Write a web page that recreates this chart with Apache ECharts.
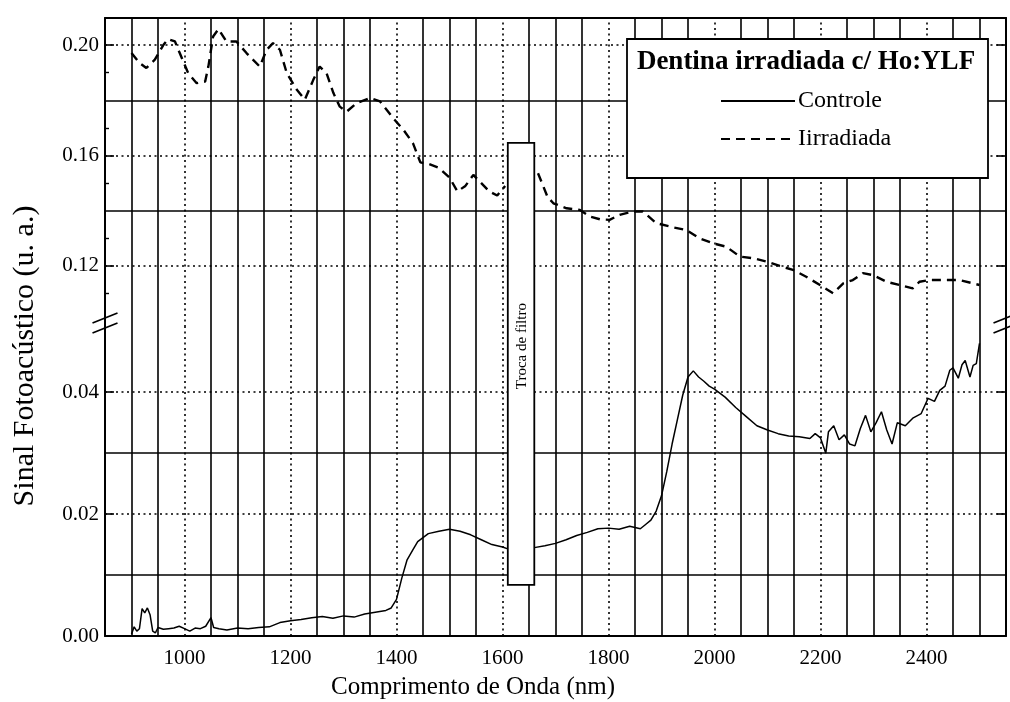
<!DOCTYPE html>
<html>
<head>
<meta charset="utf-8">
<title>Dentina irradiada c/ Ho:YLF</title>
<script src="https://cdn.jsdelivr.net/npm/echarts@6.0.0/dist/echarts.min.js"></script>
<style>
  html, body { margin: 0; padding: 0; background: #fff; }
  #chart { width: 1010px; height: 702px; }
</style>
</head>
<body>
<div id="chart"></div>
<script>
// Photoacoustic spectra of dentin: control vs. Ho:YLF irradiated sample.
// The signal axis is broken: the irradiated curve sits in the upper band,
// the control curve in the lower band.

const FONT = '"Liberation Serif", "Times New Roman", serif';

const wavelengthRange = [850, 2550];
const upperRange = [0.0979, 0.2098];
const lowerRange = [0, 0.0507];

const xTickLabels = [1000, 1200, 1400, 1600, 1800, 2000, 2200, 2400];
const upperTickLabels = [0.12, 0.16, 0.20];
const lowerTickLabels = [0.00, 0.02, 0.04];
const upperMinorTicks = [0.11, 0.13, 0.15, 0.17, 0.19];

// reference grid: dotted lines at labelled values, solid in between
const verticalDotted = [1000, 1200, 1400, 1600, 1800, 2000, 2200, 2400];
const verticalSolid = [900, 950, 1050, 1100, 1150, 1250, 1300, 1350, 1450, 1500, 1550,
  1650, 1700, 1750, 1850, 1900, 1950, 2050, 2100, 2150, 2250, 2300, 2350, 2450, 2500];
const upperDotted = [0.12, 0.16, 0.20];
const upperSolid = [0.14, 0.18];
const lowerDotted = [0.02, 0.04];
const lowerSolid = [0.01, 0.03];

// filter change region (no data recorded there)
const filterChange = { from: 1610, to: 1660, top: 0.1646, bottom: 0.0084, label: 'Troca de filtro' };

const seriesNames = ['Controle', 'Iirradiada'];
const legendTitle = 'Dentina irradiada c/ Ho:YLF';

// wavelength (nm), signal (u. a.)
const controle = [
  [900, 0.0003], [905, 0.0015], [910, 0.0008], [915, 0.0012], [920, 0.0045], [925, 0.0038],
  [930, 0.0046], [935, 0.0035], [940, 0.0008], [945, 0.0005], [950, 0.0014], [960, 0.0011],
  [970, 0.0012], [980, 0.0013], [990, 0.0016], [1000, 0.0012], [1010, 0.0008], [1020, 0.0013],
  [1030, 0.0012], [1040, 0.0016], [1050, 0.0030], [1055, 0.0014], [1065, 0.0012], [1080, 0.0010],
  [1100, 0.0013], [1120, 0.0012], [1140, 0.0014], [1160, 0.0015], [1180, 0.0022], [1200, 0.0025],
  [1220, 0.0027], [1240, 0.0030], [1260, 0.0032], [1280, 0.0029], [1300, 0.0033], [1320, 0.0031],
  [1340, 0.0036], [1360, 0.0039], [1380, 0.0042], [1390, 0.0046], [1400, 0.0060], [1410, 0.0095],
  [1420, 0.0125], [1430, 0.0140], [1440, 0.0155], [1460, 0.0168], [1480, 0.0172], [1500, 0.0175],
  [1520, 0.0172], [1540, 0.0166], [1560, 0.0158], [1580, 0.0150], [1600, 0.0146], [1610, 0.0143],
  [1635, null],
  [1660, 0.0145], [1680, 0.0148], [1700, 0.0152], [1720, 0.0158], [1740, 0.0165], [1760, 0.0170],
  [1780, 0.0176], [1800, 0.0177], [1820, 0.0175], [1840, 0.0180], [1860, 0.0176], [1870, 0.0183],
  [1880, 0.0190], [1890, 0.0205], [1900, 0.0230], [1910, 0.0270], [1920, 0.0315], [1930, 0.0355],
  [1940, 0.0395], [1950, 0.0425], [1960, 0.0435], [1970, 0.0425], [1980, 0.0418], [1990, 0.0410],
  [2000, 0.0405], [2020, 0.0392], [2040, 0.0375], [2060, 0.0360], [2080, 0.0345], [2100, 0.0338],
  [2120, 0.0332], [2140, 0.0328], [2160, 0.0327], [2180, 0.0324], [2190, 0.0332], [2200, 0.0325],
  [2210, 0.0300], [2215, 0.0335], [2225, 0.0345], [2235, 0.0322], [2245, 0.0330], [2255, 0.0315],
  [2265, 0.0312], [2275, 0.0340], [2285, 0.0362], [2295, 0.0335], [2305, 0.0350], [2315, 0.0368],
  [2325, 0.0338], [2335, 0.0315], [2345, 0.0350], [2360, 0.0345], [2375, 0.0358], [2390, 0.0365],
  [2403, 0.0390], [2415, 0.0385], [2425, 0.0403], [2435, 0.0410], [2444, 0.0436], [2450, 0.0440],
  [2460, 0.0423], [2467, 0.0445], [2473, 0.0452], [2482, 0.0425], [2488, 0.0444], [2494, 0.0447],
  [2500, 0.0480]
];

const irradiada = [
  [900, 0.1971], [915, 0.1935], [928, 0.1917], [944, 0.1947], [960, 0.2000], [969, 0.2022],
  [982, 0.2013], [991, 0.1971], [1007, 0.1898], [1023, 0.1862], [1039, 0.1868], [1045, 0.1922],
  [1054, 0.2031], [1064, 0.2058], [1079, 0.2013], [1098, 0.2013], [1117, 0.1971], [1142, 0.1922],
  [1155, 0.1983], [1167, 0.2007], [1180, 0.1983], [1193, 0.1898], [1212, 0.1838], [1227, 0.1802],
  [1243, 0.1874], [1255, 0.1922], [1268, 0.1898], [1281, 0.1826], [1293, 0.1777], [1306, 0.1759],
  [1325, 0.1790], [1350, 0.1808], [1369, 0.1796], [1394, 0.1735], [1413, 0.1693], [1431, 0.1645],
  [1445, 0.1575], [1460, 0.1570], [1480, 0.1555], [1500, 0.1520], [1515, 0.1470], [1530, 0.1490],
  [1545, 0.1530], [1560, 0.1500], [1575, 0.1470], [1590, 0.1455], [1605, 0.1490],
  [1635, null],
  [1667, 0.1536], [1685, 0.1450], [1696, 0.1427], [1721, 0.1409], [1746, 0.1403], [1765, 0.1379],
  [1784, 0.1369], [1802, 0.1367], [1821, 0.1385], [1846, 0.1397], [1865, 0.1397], [1890, 0.1355],
  [1922, 0.1340], [1947, 0.1330], [1972, 0.1300], [1997, 0.1282], [2022, 0.1270], [2048, 0.1234],
  [2073, 0.1228], [2098, 0.1216], [2123, 0.1200], [2148, 0.1186], [2173, 0.1161], [2199, 0.1131],
  [2224, 0.1101], [2243, 0.1137], [2261, 0.1149], [2280, 0.1174], [2299, 0.1167], [2324, 0.1143],
  [2349, 0.1131], [2374, 0.1119], [2387, 0.1143], [2406, 0.1149], [2437, 0.1149], [2462, 0.1149],
  [2488, 0.1137], [2500, 0.1131]
];

const INK = '#000';
const solidGrid = { type: 'solid', width: 1.6, color: INK };
const dottedGrid = { type: [2, 3.5], width: 1.6, color: INK };

function gridLines(horizSolid, horizDotted) {
  const items = [];
  verticalSolid.forEach(v => items.push({ xAxis: v, lineStyle: solidGrid }));
  verticalDotted.forEach(v => items.push({ xAxis: v, lineStyle: dottedGrid }));
  horizSolid.forEach(v => items.push({ yAxis: v, lineStyle: solidGrid }));
  horizDotted.forEach(v => items.push({ yAxis: v, lineStyle: dottedGrid }));
  return items;
}

function frameLine() {
  return { show: true, onZero: false, lineStyle: { color: INK, width: 2 } };
}

const labelStyle = { fontFamily: FONT, fontSize: 21, color: INK };
const fmt = v => Number(v).toFixed(2);

const chart = echarts.init(document.getElementById('chart'), null, { renderer: 'canvas' });

const option = {
  animation: false,
  backgroundColor: '#fff',
  grid: [
    { left: 105, top: 18, width: 901, height: 309 },
    { left: 105, top: 327, width: 901, height: 309 }
  ],
  xAxis: [
    {
      gridIndex: 0, type: 'value', min: wavelengthRange[0], max: wavelengthRange[1], position: 'top',
      axisLine: frameLine(), axisTick: { show: false }, axisLabel: { show: false }, splitLine: { show: false }
    },
    {
      gridIndex: 1, type: 'value', min: wavelengthRange[0], max: wavelengthRange[1], position: 'bottom',
      axisLine: frameLine(), axisTick: { show: false }, splitLine: { show: false },
      axisLabel: Object.assign({ customValues: xTickLabels, margin: 12, formatter: v => String(v) }, labelStyle)
    }
  ],
  yAxis: [
    {
      gridIndex: 0, type: 'value', min: upperRange[0], max: upperRange[1], position: 'left',
      axisLine: frameLine(), splitLine: { show: false },
      axisTick: { customValues: upperTickLabels, inside: true, length: 9, lineStyle: { color: INK, width: 1.6 } },
      axisLabel: Object.assign({ customValues: upperTickLabels, formatter: fmt, margin: 6 }, labelStyle)
    },
    {
      gridIndex: 0, type: 'value', min: upperRange[0], max: upperRange[1], position: 'left',
      axisLine: { show: false }, splitLine: { show: false }, axisLabel: { show: false },
      axisTick: { customValues: upperMinorTicks, inside: true, length: 4, lineStyle: { color: INK, width: 1.4 } }
    },
    {
      gridIndex: 0, type: 'value', min: upperRange[0], max: upperRange[1], position: 'right',
      axisLine: frameLine(), splitLine: { show: false }, axisLabel: { show: false },
      axisTick: { customValues: upperTickLabels, inside: true, length: 9, lineStyle: { color: INK, width: 1.6 } }
    },
    {
      gridIndex: 1, type: 'value', min: lowerRange[0], max: lowerRange[1], position: 'left',
      axisLine: frameLine(), splitLine: { show: false },
      axisTick: { customValues: lowerTickLabels, inside: true, length: 9, lineStyle: { color: INK, width: 1.6 } },
      axisLabel: Object.assign({ customValues: lowerTickLabels, formatter: fmt, margin: 6 }, labelStyle)
    },
    {
      gridIndex: 1, type: 'value', min: lowerRange[0], max: lowerRange[1], position: 'right',
      axisLine: frameLine(), splitLine: { show: false }, axisLabel: { show: false },
      axisTick: { customValues: lowerTickLabels, inside: true, length: 9, lineStyle: { color: INK, width: 1.6 } }
    }
  ],
  legend: {
    data: seriesNames,
    orient: 'vertical',
    left: 715,
    top: 84,
    itemWidth: 74,
    itemHeight: 22,
    itemGap: 14,
    z: 20,
    selectedMode: false,
    itemStyle: { opacity: 0 },
    textStyle: { fontFamily: FONT, fontSize: 24, color: INK, padding: [0, 0, 0, -2] }
  },
  series: [
    {
      type: 'line', xAxisIndex: 0, yAxisIndex: 0, data: [], z: 1, silent: true,
      markLine: { symbol: ['none', 'none'], silent: true, animation: false, label: { show: false },
        data: gridLines(upperSolid, upperDotted) }
    },
    {
      type: 'line', xAxisIndex: 1, yAxisIndex: 3, data: [], z: 1, silent: true,
      markLine: { symbol: ['none', 'none'], silent: true, animation: false, label: { show: false },
        data: gridLines(lowerSolid, lowerDotted) }
    },
    {
      name: seriesNames[0], type: 'line', xAxisIndex: 1, yAxisIndex: 3, data: controle,
      symbol: 'none', showSymbol: false, connectNulls: false, z: 3,
      lineStyle: { color: INK, width: 1.5 }, itemStyle: { color: INK, opacity: 0 }
    },
    {
      name: seriesNames[1], type: 'line', xAxisIndex: 0, yAxisIndex: 0, data: irradiada,
      symbol: 'none', showSymbol: false, connectNulls: false, z: 3,
      lineStyle: { color: INK, width: 2.4, type: [9, 6] }, itemStyle: { color: INK, opacity: 0 }
    }
  ]
};

chart.setOption(option);

// annotations placed from the axes' own coordinate conversion
const topLeft = chart.convertToPixel({ gridIndex: 0 }, [wavelengthRange[0], upperRange[0]]);
const topRight = chart.convertToPixel({ gridIndex: 0 }, [wavelengthRange[1], upperRange[0]]);
const boxA = chart.convertToPixel({ gridIndex: 0 }, [filterChange.from, filterChange.top]);
const boxB = chart.convertToPixel({ gridIndex: 1 }, [filterChange.to, filterChange.bottom]);

function breakMarks(x, y) {
  const mk = dy => ({
    type: 'line', z: 30,
    shape: { x1: x - 12.5, y1: y + dy + 5, x2: x + 12.5, y2: y + dy - 5 },
    style: { stroke: INK, lineWidth: 1.8 }
  });
  return [mk(-5), mk(5)];
}

const graphics = [
  // filter change box
  {
    type: 'rect', z: 10,
    shape: { x: boxA[0], y: boxA[1], width: boxB[0] - boxA[0], height: boxB[1] - boxA[1] },
    style: { fill: '#fff', stroke: INK, lineWidth: 1.8 }
  },
  {
    type: 'text', z: 11,
    x: (boxA[0] + boxB[0]) / 2 + 1, y: boxA[1] + 0.46 * (boxB[1] - boxA[1]), rotation: Math.PI / 2,
    style: { text: filterChange.label, font: '15px ' + FONT, fill: INK, align: 'center', verticalAlign: 'middle' }
  },
  // legend frame and heading
  {
    type: 'rect', z: 10,
    shape: { x: 627, y: 39, width: 361, height: 139 },
    style: { fill: '#fff', stroke: INK, lineWidth: 1.8 }
  },
  {
    type: 'text', z: 21, x: 806, y: 62,
    style: { text: legendTitle, font: 'bold 27px ' + FONT, fill: INK, align: 'center', verticalAlign: 'middle' }
  },
  // axis titles
  {
    type: 'text', z: 21, x: 25, y: 356, rotation: Math.PI / 2,
    style: { text: 'Sinal Fotoacústico (u. a.)', font: '30px ' + FONT, fill: INK, align: 'center', verticalAlign: 'middle' }
  },
  {
    type: 'text', z: 21, x: 473, y: 687,
    style: { text: 'Comprimento de Onda (nm)', font: '25px ' + FONT, fill: INK, align: 'center', verticalAlign: 'middle' }
  }
].concat(breakMarks(topLeft[0], topLeft[1] - 4), breakMarks(topRight[0], topRight[1] - 4));

chart.setOption({ graphic: { elements: graphics } });
</script>
</body>
</html>
